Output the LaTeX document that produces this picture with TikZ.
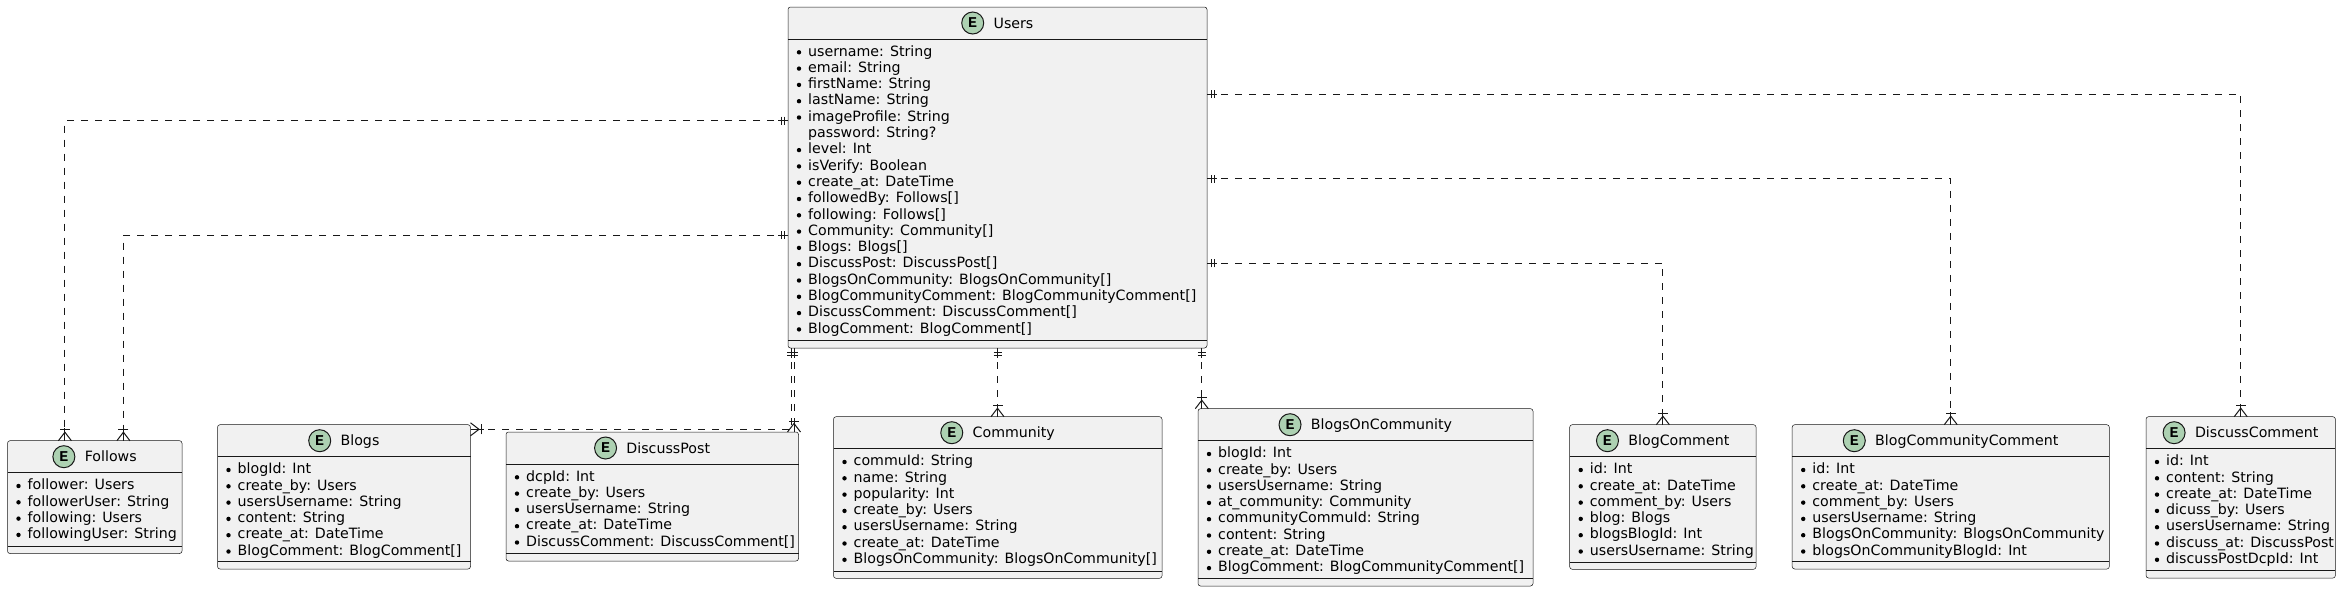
\documentclass[tikz,border=0pt]{standalone}
\usepackage{fontspec}
\setmainfont{DejaVu Sans}
\newfontfamily\spotfont{Liberation Mono}
\usetikzlibrary{calc}
\definecolor{linec}{HTML}{181818}
\definecolor{boxfill}{HTML}{F1F1F1}
\definecolor{spotfill}{HTML}{ADD1B2}
\tikzset{
  ebox/.style={draw=linec, line width=0.5pt, fill=boxfill, rounded corners=2.5pt, inner sep=0pt, outer sep=0pt},
  divline/.style={draw=linec, line width=0.5pt},
  etitle/.style={inner sep=0pt, font=\fontsize{14.2}{16.3}\selectfont, text height=10pt, text depth=0pt},
  spot/.style={circle, draw=linec, line width=1pt, fill=spotfill, minimum size=22pt, inner sep=0pt, font=\spotfont\bfseries\fontsize{15}{15}\selectfont},
  attr/.style={inner sep=0pt, anchor=base west, font=\fontsize{14.2}{16.3}\selectfont},
  rel/.style={draw=linec, line width=1pt, dash pattern=on 7pt off 7pt},
  mk/.style={draw=linec, line width=1pt},
  exone/.pic={\draw[mk] (0,0) -- (10,0); \draw[mk] (4,-4) -- (4,4); \draw[mk] (7,-4) -- (7,4);},
  crowmany/.pic={\draw[mk] (0,0) -- (13,0); \draw[mk] (0,6.5) -- (8.5,0) -- (0,-6.5); \draw[mk] (11,-5) -- (11,5);}
}
% #1 name, #2 left, #3 top, #4 right, #5 bottom, #6 title, #7 rows
\newcommand{\erent}[7]{%
  \pgfmathsetmacro{\eW}{#4-#2}%
  \pgfmathsetmacro{\eH}{#5-#3}%
  \node[ebox, minimum width=\eW pt, minimum height=\eH pt, anchor=north west] (#1) at (#2,-#3) {};
  \draw[divline] ([yshift=-32pt]#1.north west) -- ([yshift=-32pt]#1.north east);
  \draw[divline] ([yshift=7.5pt]#1.south west) -- ([yshift=7.5pt]#1.south east);
  \node[etitle] (#1-t) at ({(#2+#4)/2+16},-#3-16) {#6};
  \node[spot] (#1-e) at ([xshift=-20.7pt]#1-t.west) {E};
  \foreach \b/\t [count=\i from 0] in {#7} {
    \node[attr] (#1-a\i) at (#2+20,{-#3-44-\i*16.3-5}) {\t};
    \ifnum\b=1 \fill[black] (#2+11,{-#3-44-\i*16.3-1.3}) circle (2.2); \fi
  }
}
\begin{document}
\begin{tikzpicture}[x=1pt,y=1pt]
\fill[white] (0,0) rectangle (2342,-592);
\useasboundingbox (0,0) rectangle (2342,-592);

\erent{users}{788}{7}{1207}{348}{Users}{1/username: String, 1/email: String, 1/firstName: String, 1/lastName: String, 1/imageProfile: String, 0/password: String?, 1/level: Int, 1/isVerify: Boolean, 1/create\_at: DateTime, 1/followedBy: Follows[], 1/following: Follows[], 1/Community: Community[], 1/Blogs: Blogs[], 1/DiscussPost: DiscussPost[], 1/BlogsOnCommunity: BlogsOnCommunity[], 1/BlogCommunityComment: BlogCommunityComment[], 1/DiscussComment: DiscussComment[], 1/BlogComment: BlogComment[]}

\erent{follows}{7.5}{440.7}{182}{553.5}{Follows}{1/follower: Users, 1/followerUser: String, 1/following: Users, 1/followingUser: String}

\erent{blogs}{217.5}{424.7}{470.5}{569}{Blogs}{1/blogId: Int, 1/create\_by: Users, 1/usersUsername: String, 1/content: String, 1/create\_at: DateTime, 1/BlogComment: BlogComment[]}

\erent{discusspost}{506}{432}{798.5}{561}{DiscussPost}{1/dcpId: Int, 1/create\_by: Users, 1/usersUsername: String, 1/create\_at: DateTime, 1/DiscussComment: DiscussComment[]}

\erent{community}{833.5}{416.7}{1162}{578.3}{Community}{1/commuId: String, 1/name: String, 1/popularity: Int, 1/create\_by: Users, 1/usersUsername: String, 1/create\_at: DateTime, 1/BlogsOnCommunity: BlogsOnCommunity[]}

\erent{boc}{1198}{408.7}{1533}{586}{BlogsOnCommunity}{1/blogId: Int, 1/create\_by: Users, 1/usersUsername: String, 1/at\_community: Community, 1/communityCommuId: String, 1/content: String, 1/create\_at: DateTime, 1/BlogComment: BlogCommunityComment[]}

\erent{blogcomment}{1569.7}{424.7}{1756}{569.3}{BlogComment}{1/id: Int, 1/create\_at: DateTime, 1/comment\_by: Users, 1/blog: Blogs, 1/blogsBlogId: Int, 1/usersUsername: String}

\erent{bcc}{1792.2}{424.7}{2109.3}{569}{BlogCommunityComment}{1/id: Int, 1/create\_at: DateTime, 1/comment\_by: Users, 1/usersUsername: String, 1/BlogsOnCommunity: BlogsOnCommunity, 1/blogsOnCommunityBlogId: Int}

\erent{discusscomment}{2146}{416.7}{2335.4}{578}{DiscussComment}{1/id: Int, 1/content: String, 1/create\_at: DateTime, 1/dicuss\_by: Users, 1/usersUsername: String, 1/discuss\_at: DiscussPost, 1/discussPostDcpId: Int}

% connector end points
\coordinate (uF1) at ($(users.north west)+(0,-113.7)$);
\coordinate (fF1) at ($(follows.north west)+(57.4,0)$);
\coordinate (uF2) at ($(users.north west)+(0,-228.3)$);
\coordinate (fF2) at ($(follows.north west)+(115.9,0)$);
\coordinate (uB) at ($(users.south west)+(3.3,0)$);
\coordinate (bB) at ($(blogs.north east)+(0,-4.6)$);
\coordinate (uD) at ($(users.south west)+(6,0)$);
\coordinate (dD) at (uD |- discusspost.north);
\coordinate (uC) at (users.south);
\coordinate (cC) at (uC |- community.north);
\coordinate (uBo) at ($(users.south east)+(-5.2,0)$);
\coordinate (bBo) at (uBo |- boc.north);
\coordinate (uDC) at ($(users.north east)+(0,-87)$);
\coordinate (dcDC) at (discusscomment.north);
\coordinate (uBCC) at ($(users.north east)+(0,-171.7)$);
\coordinate (bBCC) at (bcc.north);
\coordinate (uBC) at ($(users.north east)+(0,-256.3)$);
\coordinate (bBC) at (blogcomment.north);

\draw[rel] (uF1) -| (fF1);
\draw[rel] (uF2) -| (fF2);
\draw[rel] (uB) |- (bB);
\draw[rel] (uD) -- (dD);
\draw[rel] (uC) -- (cC);
\draw[rel] (uBo) -- (bBo);
\draw[rel] (uDC) -| (dcDC);
\draw[rel] (uBCC) -| (bBCC);
\draw[rel] (uBC) -| (bBC);

% markers
\pic[rotate=180] at (uF1) {exone};
\pic[rotate=180] at (uF2) {exone};
\pic[rotate=-90] at (uB) {exone};
\pic[rotate=-90] at (uD) {exone};
\pic[rotate=-90] at (uC) {exone};
\pic[rotate=-90] at (uBo) {exone};
\pic at (uDC) {exone};
\pic at (uBCC) {exone};
\pic at (uBC) {exone};
\pic[rotate=90] at (fF1) {crowmany};
\pic[rotate=90] at (fF2) {crowmany};
\pic at (bB) {crowmany};
\pic[rotate=90] at (dD) {crowmany};
\pic[rotate=90] at (cC) {crowmany};
\pic[rotate=90] at (bBo) {crowmany};
\pic[rotate=90] at (dcDC) {crowmany};
\pic[rotate=90] at (bBCC) {crowmany};
\pic[rotate=90] at (bBC) {crowmany};
\end{tikzpicture}
\end{document}
